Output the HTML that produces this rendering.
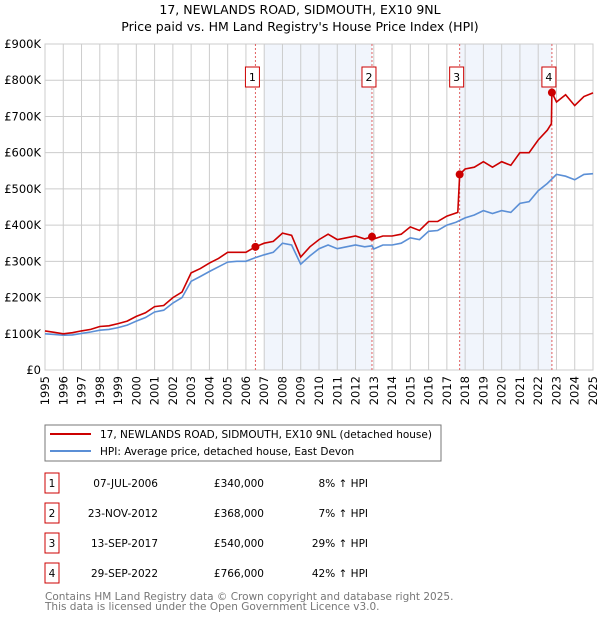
<!DOCTYPE html>
<html><head><meta charset="utf-8">
<style>
body{margin:0;background:#fff;font-family:"Liberation Sans","DejaVu Sans",sans-serif;}
svg text{font-family:"DejaVu Sans","Liberation Sans",sans-serif;}
</style></head>
<body>
<svg id="c" width="600" height="620" viewBox="0 0 600 620" xmlns="http://www.w3.org/2000/svg">
<text x="300" y="14" text-anchor="middle" font-size="12.5" fill="#000">17, NEWLANDS ROAD, SIDMOUTH, EX10 9NL</text>
<text x="300" y="31" text-anchor="middle" font-size="12.5" fill="#000">Price paid vs. HM Land Registry's House Price Index (HPI)</text>
<g id="plot"></g>
<rect x="45" y="425" width="396" height="36" fill="#fff" stroke="#777"/>
<line x1="50" y1="434" x2="91" y2="434" stroke="#cc0000" stroke-width="2"/>
<text x="100" y="438" font-size="10.5">17, NEWLANDS ROAD, SIDMOUTH, EX10 9NL (detached house)</text>
<line x1="50" y1="451" x2="91" y2="451" stroke="#5b8fd6" stroke-width="2"/>
<text x="100" y="455" font-size="10.5">HPI: Average price, detached house, East Devon</text>
<g id="table" font-size="10.5"></g>
<text x="45" y="600" font-size="10.5" fill="#777">Contains HM Land Registry data © Crown copyright and database right 2025.</text>
<text x="45" y="610" font-size="10.5" fill="#777">This data is licensed under the Open Government Licence v3.0.</text>
</svg>
<script>
const hpiYears=[1995,1995.5,1996,1996.5,1997,1997.5,1998,1998.5,1999,1999.5,2000,2000.5,2001,2001.5,2002,2002.5,2003,2003.5,2004,2004.5,2005,2005.5,2006,2006.5,2007,2007.5,2008,2008.5,2009,2009.5,2010,2010.5,2011,2011.5,2012,2012.5,2012.9,2013,2013.5,2014,2014.5,2015,2015.5,2016,2016.5,2017,2017.5,2018,2018.5,2019,2019.5,2020,2020.5,2021,2021.5,2022,2022.5,2023,2023.5,2024,2024.5,2025];
const hpiValues=[100,98,96,97,101,105,110,112,117,124,135,145,160,165,185,200,245,258,272,285,298,300,300,310,318,325,350,345,292,315,335,345,335,340,345,340,343,334,345,345,350,365,360,383,385,400,408,420,428,440,432,440,435,460,465,495,515,540,535,525,540,542];
const priceYears=[1995,1995.5,1996,1996.5,1997,1997.5,1998,1998.5,1999,1999.5,2000,2000.5,2001,2001.5,2002,2002.5,2003,2003.5,2004,2004.5,2005,2005.5,2006,2006.52,2007,2007.5,2008,2008.5,2009,2009.5,2010,2010.5,2011,2011.5,2012,2012.5,2012.9,2013,2013.5,2014,2014.5,2015,2015.5,2016,2016.5,2017,2017.6,2017.7,2018,2018.5,2019,2019.5,2020,2020.5,2021,2021.5,2022,2022.5,2022.72,2022.75,2023,2023.5,2024,2024.5,2025];
const priceValues=[108,104,100,103,108,112,120,122,128,135,148,158,175,178,200,215,268,280,295,308,325,325,325,340,350,355,378,372,312,340,360,375,360,365,370,362,368,362,370,370,375,395,385,410,410,425,435,540,555,560,575,560,575,565,600,600,635,662,680,766,740,760,730,755,765];
const saleYears=[2006.52,2012.9,2017.7,2022.75];
const saleValues=[340,368,540,766];
const saleLabels=["1","2","3","4"];
const saleDates=["07-JUL-2006","23-NOV-2012","13-SEP-2017","29-SEP-2022"];
const salePrices=["£340,000","£368,000","£540,000","£766,000"];
const saleHpi=["8% ↑ HPI","7% ↑ HPI","29% ↑ HPI","42% ↑ HPI"];
const yTicks=[0,100,200,300,400,500,600,700,800,900];
const yTickLabels=["£0","£100K","£200K","£300K","£400K","£500K","£600K","£700K","£800K","£900K"];
const xTicks=[1995,1996,1997,1998,1999,2000,2001,2002,2003,2004,2005,2006,2007,2008,2009,2010,2011,2012,2013,2014,2015,2016,2017,2018,2019,2020,2021,2022,2023,2024,2025];
const bands=[[2007,2012.9],[2017.7,2022.75]];

const X0=45,X1=593,Y0=370,Y1=44;
const xs=y=>X0+(y-1995)/30*(X1-X0);
const ys=v=>Y0-v/900*(Y0-Y1);
const NS="http://www.w3.org/2000/svg";
const plot=document.getElementById('plot');
function mk(tag,attrs,parent){const e=document.createElementNS(NS,tag);for(const k in attrs)e.setAttribute(k,attrs[k]);(parent||plot).appendChild(e);return e;}

mk('rect',{x:X0,y:Y1,width:X1-X0,height:Y0-Y1,fill:'#fff'});
bands.forEach(b=>{const r=mk('rect',{x:xs(b[0]),y:Y1,width:xs(b[1])-xs(b[0]),height:Y0-Y1,fill:'#eef2fb',opacity:0.8});

});
yTicks.forEach((t,i)=>{const l=mk('line',{x1:X0,x2:X1,y1:ys(t),y2:ys(t),stroke:'#ccc'});


const tx=mk('text',{x:X0-4,y:ys(t)+4,'text-anchor':'end','font-size':'11.5'});tx.textContent=yTickLabels[i];

});
xTicks.forEach(t=>{const l=mk('line',{x1:xs(t),x2:xs(t),y1:Y1,y2:Y0,stroke:'#ccc'});


const tx=mk('text',{x:xs(t)+4,y:Y0+6,'text-anchor':'end','font-size':'11.5',transform:`rotate(-90 ${xs(t)+4} ${Y0+6})`});tx.textContent=t;

});
mk('rect',{x:X0,y:Y1,width:X1-X0,height:Y0-Y1,fill:'none',stroke:'#ccc'});
saleYears.forEach((y,i)=>{const l=mk('line',{x1:xs(y),x2:xs(y),y1:Y1,y2:Y0,stroke:'#e06060','stroke-dasharray':'2,2'});

});
function path(xa,va,col,name){const d=xa.map((y,i)=>(i?'L':'M')+xs(y).toFixed(1)+','+ys(va[i]).toFixed(1)).join('');
const p=mk('path',{d:d,fill:'none',stroke:col,'stroke-width':1.6});

}
path(hpiYears,hpiValues,'#5b8fd6','hpi-line');
path(priceYears,priceValues,'#cc0000','price-line');
saleYears.forEach((y,i)=>{const c=mk('circle',{cx:xs(y),cy:ys(saleValues[i]),r:4,fill:'#cc0000'});


const bx=xs(y)-10;
const r=mk('rect',{x:bx,y:67,width:14,height:20,fill:'#fff',stroke:'#cc0000'});


const t=mk('text',{x:bx+7,y:81,'text-anchor':'middle','font-size':'11'});t.textContent=saleLabels[i];

});

const tb=document.getElementById('table');
saleLabels.forEach((s,i)=>{const cy=483+30*i;
const r=mk('rect',{x:45,y:cy-10,width:14,height:20,fill:'#fff',stroke:'#cc0000'},tb);


const cells=[[52,'middle',s,'table-sale-number'],[158,'end',saleDates[i],'table-sale-date'],[264,'end',salePrices[i],'table-sale-price'],[368,'end',saleHpi[i],'table-sale-hpi']];
cells.forEach(c=>{const t=mk('text',{x:c[0],y:cy+4,'text-anchor':c[1],'font-size':'10.5'},tb);t.textContent=c[2];

});});
</script>
</body></html>
